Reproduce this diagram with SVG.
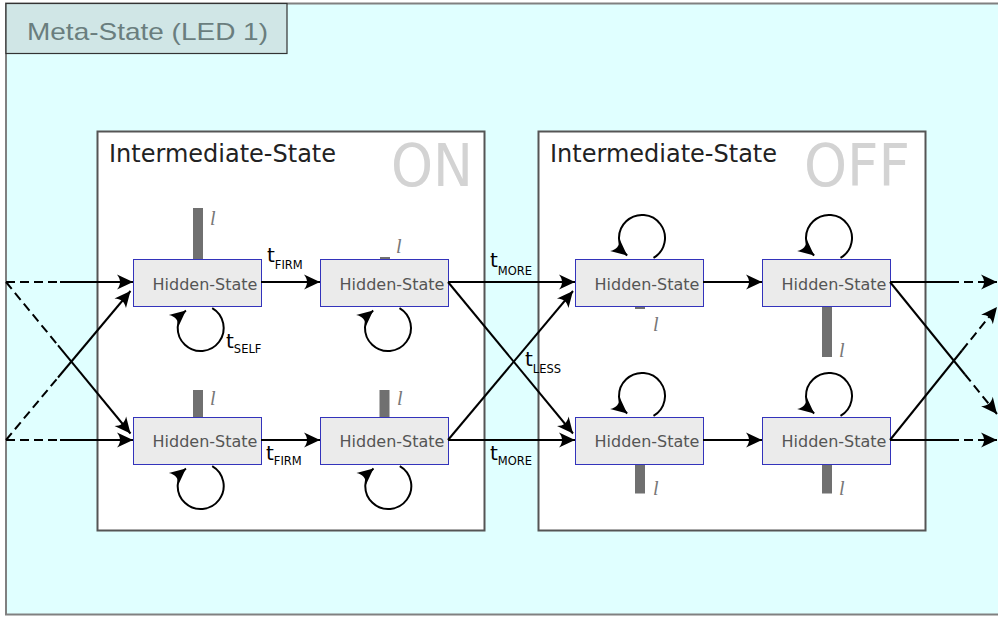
<svg xmlns="http://www.w3.org/2000/svg" width="998" height="617" viewBox="0 0 998 617">
  <style>
    .meta { fill: #e0ffff; stroke: #808080; stroke-width: 2; }
    .metalbl { fill: #d0e6e6; stroke: #333; stroke-width: 1.2; }
    .metatxt { font-family: "Liberation Sans", Arial, sans-serif; font-size: 24px; fill: #6a7e7e; }
    .inter { fill: #ffffff; stroke: #555; stroke-width: 2; }
    .intertxt { font-family: "DejaVu Sans", sans-serif; font-size: 24px; fill: #222; }
    .big { font-family: "DejaVu Sans", sans-serif; font-size: 58px; fill: #d3d3d3; }
    .hs { fill: #ebebeb; stroke: #3333bb; stroke-width: 1; }
    .hstxt { font-family: "DejaVu Sans", sans-serif; font-size: 16px; fill: #555; text-anchor: middle; }
    .bar { fill: #707070; }
    .ell { font-family: "Liberation Serif", "DejaVu Serif", serif; font-style: italic; font-size: 20px; fill: #777; }
    .edge { fill: none; stroke: #000; stroke-width: 2; }
    .dash { stroke-dasharray: 9 5; }
    .lbl { font-family: "DejaVu Sans", sans-serif; font-size: 20px; fill: #000; }
    .sub { font-size: 11.5px; }
  </style>
  <defs>
    <marker id="arr" markerUnits="userSpaceOnUse" orient="auto" overflow="visible" markerWidth="1" markerHeight="1">
      <path d="M0,0 L-16,-7.5 C-12,-2.5 -12,2.5 -16,7.5 Z" fill="#000"/>
    </marker>
  </defs>

  <rect width="998" height="617" fill="#ffffff"/>

  <!-- outer meta-state container -->
  <g id="meta-state">
    <rect class="meta" x="6" y="3.5" width="1000" height="611"/>
    <rect class="metalbl" x="6" y="3.5" width="281" height="50"/>
    <text class="metatxt" x="27" y="39.5" textLength="241" lengthAdjust="spacingAndGlyphs">Meta-State (LED 1)</text>
  </g>

  <!-- intermediate states -->
  <g id="inter-on">
    <rect class="inter" x="97.5" y="131.5" width="387" height="399"/>
    <text class="intertxt" x="109" y="162">Intermediate-State</text>
    <text class="big" x="391" y="186" textLength="82" lengthAdjust="spacingAndGlyphs">ON</text>
  </g>
  <g id="inter-off">
    <rect class="inter" x="538.5" y="131.5" width="387" height="399"/>
    <text class="intertxt" x="550" y="162">Intermediate-State</text>
    <text class="big" x="804" y="186" textLength="106" lengthAdjust="spacingAndGlyphs">OFF</text>
  </g>

  <!-- hidden states -->
  <g id="hs-on-1">
    <rect class="bar" x="193" y="208" width="10" height="51"/>
    <text class="ell" x="210" y="225">l</text>
    <rect class="hs" x="133.5" y="259.5" width="128" height="47"/>
    <text class="hstxt" x="205" y="289.5">Hidden-State</text>
  </g>
  <g id="hs-on-2">
    <rect class="bar" x="380" y="257" width="10" height="2.5"/>
    <text class="ell" x="396" y="253">l</text>
    <rect class="hs" x="320.5" y="259.5" width="128" height="47"/>
    <text class="hstxt" x="392" y="289.5">Hidden-State</text>
  </g>
  <g id="hs-on-3">
    <rect class="bar" x="193" y="390" width="10" height="27"/>
    <text class="ell" x="210" y="405">l</text>
    <rect class="hs" x="133.5" y="417.5" width="128" height="47"/>
    <text class="hstxt" x="205" y="447">Hidden-State</text>
  </g>
  <g id="hs-on-4">
    <rect class="bar" x="379.5" y="390" width="10" height="27"/>
    <text class="ell" x="397" y="405">l</text>
    <rect class="hs" x="320.5" y="417.5" width="128" height="47"/>
    <text class="hstxt" x="392" y="447">Hidden-State</text>
  </g>
  <g id="hs-off-1">
    <rect class="bar" x="635" y="306.5" width="10" height="2.5"/>
    <text class="ell" x="653" y="331">l</text>
    <rect class="hs" x="575.5" y="259.5" width="128" height="47"/>
    <text class="hstxt" x="647" y="289.5">Hidden-State</text>
  </g>
  <g id="hs-off-2">
    <rect class="bar" x="822" y="306.5" width="10" height="50.5"/>
    <text class="ell" x="839" y="357">l</text>
    <rect class="hs" x="762.5" y="259.5" width="128" height="47"/>
    <text class="hstxt" x="834" y="289.5">Hidden-State</text>
  </g>
  <g id="hs-off-3">
    <rect class="bar" x="635" y="464.5" width="10" height="29"/>
    <text class="ell" x="653" y="495">l</text>
    <rect class="hs" x="575.5" y="417.5" width="128" height="47"/>
    <text class="hstxt" x="647" y="447">Hidden-State</text>
  </g>
  <g id="hs-off-4">
    <rect class="bar" x="822" y="464.5" width="10" height="29"/>
    <text class="ell" x="839" y="495">l</text>
    <rect class="hs" x="762.5" y="417.5" width="128" height="47"/>
    <text class="hstxt" x="834" y="447">Hidden-State</text>
  </g>

  <!-- transitions -->
  <g id="connectors">
    <!-- incoming from the previous meta-state -->
    <path class="edge dash" d="M6,282 L60,282"/>
    <path class="edge" d="M60,282 L133,282" marker-end="url(#arr)"/>
    <path class="edge dash" d="M6,440 L60,440"/>
    <path class="edge" d="M60,440 L133,440" marker-end="url(#arr)"/>
    <path class="edge dash" d="M6,282 L58,345.3"/>
    <path class="edge" d="M58,345.3 L130.5,433.5" marker-end="url(#arr)"/>
    <path class="edge dash" d="M6,440 L58,377.5"/>
    <path class="edge" d="M58,377.5 L130.5,291" marker-end="url(#arr)"/>

    <!-- inside ON -->
    <path class="edge" d="M261,282 L320,282" marker-end="url(#arr)"/>
    <path class="edge" d="M261,440 L320,440" marker-end="url(#arr)"/>

    <!-- ON to OFF -->
    <path class="edge" d="M448,282 L575,282" marker-end="url(#arr)"/>
    <path class="edge" d="M448,440 L575,440" marker-end="url(#arr)"/>
    <path class="edge" d="M448,282 L573,433.5" marker-end="url(#arr)"/>
    <path class="edge" d="M448,440 L573,291" marker-end="url(#arr)"/>

    <!-- inside OFF -->
    <path class="edge" d="M703,282 L762,282" marker-end="url(#arr)"/>
    <path class="edge" d="M703,440 L762,440" marker-end="url(#arr)"/>

    <!-- outgoing to the next meta-state -->
    <path class="edge" d="M890,282 L950,282"/>
    <path class="edge dash" d="M950,282 L997,282" marker-end="url(#arr)"/>
    <path class="edge" d="M890,440 L950,440"/>
    <path class="edge dash" d="M950,440 L997,440" marker-end="url(#arr)"/>
    <path class="edge" d="M890,282 L965,374.5"/>
    <path class="edge dash" d="M965,374.5 L997,414" marker-end="url(#arr)"/>
    <path class="edge" d="M890,440 L962,350.5"/>
    <path class="edge dash" d="M962,350.5 L997,307" marker-end="url(#arr)"/>

    <!-- self loops -->
    <path class="edge" transform="translate(200.7,328)" d="M11.5,-19.9 A23,23 0 1 1 -14.8,-17.6" marker-end="url(#arr)"/>
    <path class="edge" transform="translate(388,328)" d="M11.5,-19.9 A23,23 0 1 1 -14.8,-17.6" marker-end="url(#arr)"/>
    <path class="edge" transform="translate(200.7,486)" d="M11.5,-19.9 A23,23 0 1 1 -14.8,-17.6" marker-end="url(#arr)"/>
    <path class="edge" transform="translate(388.3,486)" d="M11.5,-19.9 A23,23 0 1 1 -14.8,-17.6" marker-end="url(#arr)"/>
    <path class="edge" transform="translate(642,238)" d="M11.5,19.9 A23,23 0 1 0 -14.8,17.6" marker-end="url(#arr)"/>
    <path class="edge" transform="translate(829,238)" d="M11.5,19.9 A23,23 0 1 0 -14.8,17.6" marker-end="url(#arr)"/>
    <path class="edge" transform="translate(642,396)" d="M11.5,19.9 A23,23 0 1 0 -14.8,17.6" marker-end="url(#arr)"/>
    <path class="edge" transform="translate(829,396)" d="M11.5,19.9 A23,23 0 1 0 -14.8,17.6" marker-end="url(#arr)"/>

    <!-- transition labels -->
    <text class="lbl" x="267" y="262">t<tspan class="sub" dy="7">FIRM</tspan></text>
    <text class="lbl" x="266" y="460">t<tspan class="sub" dy="5">FIRM</tspan></text>
    <text class="lbl" x="226" y="348">t<tspan class="sub" dy="5">SELF</tspan></text>
    <text class="lbl" x="490" y="267">t<tspan class="sub" dy="8">MORE</tspan></text>
    <text class="lbl" x="490" y="460">t<tspan class="sub" dy="5">MORE</tspan></text>
    <text class="lbl" x="525" y="366">t<tspan class="sub" dy="6.5">LESS</tspan></text>
  </g>
</svg>
